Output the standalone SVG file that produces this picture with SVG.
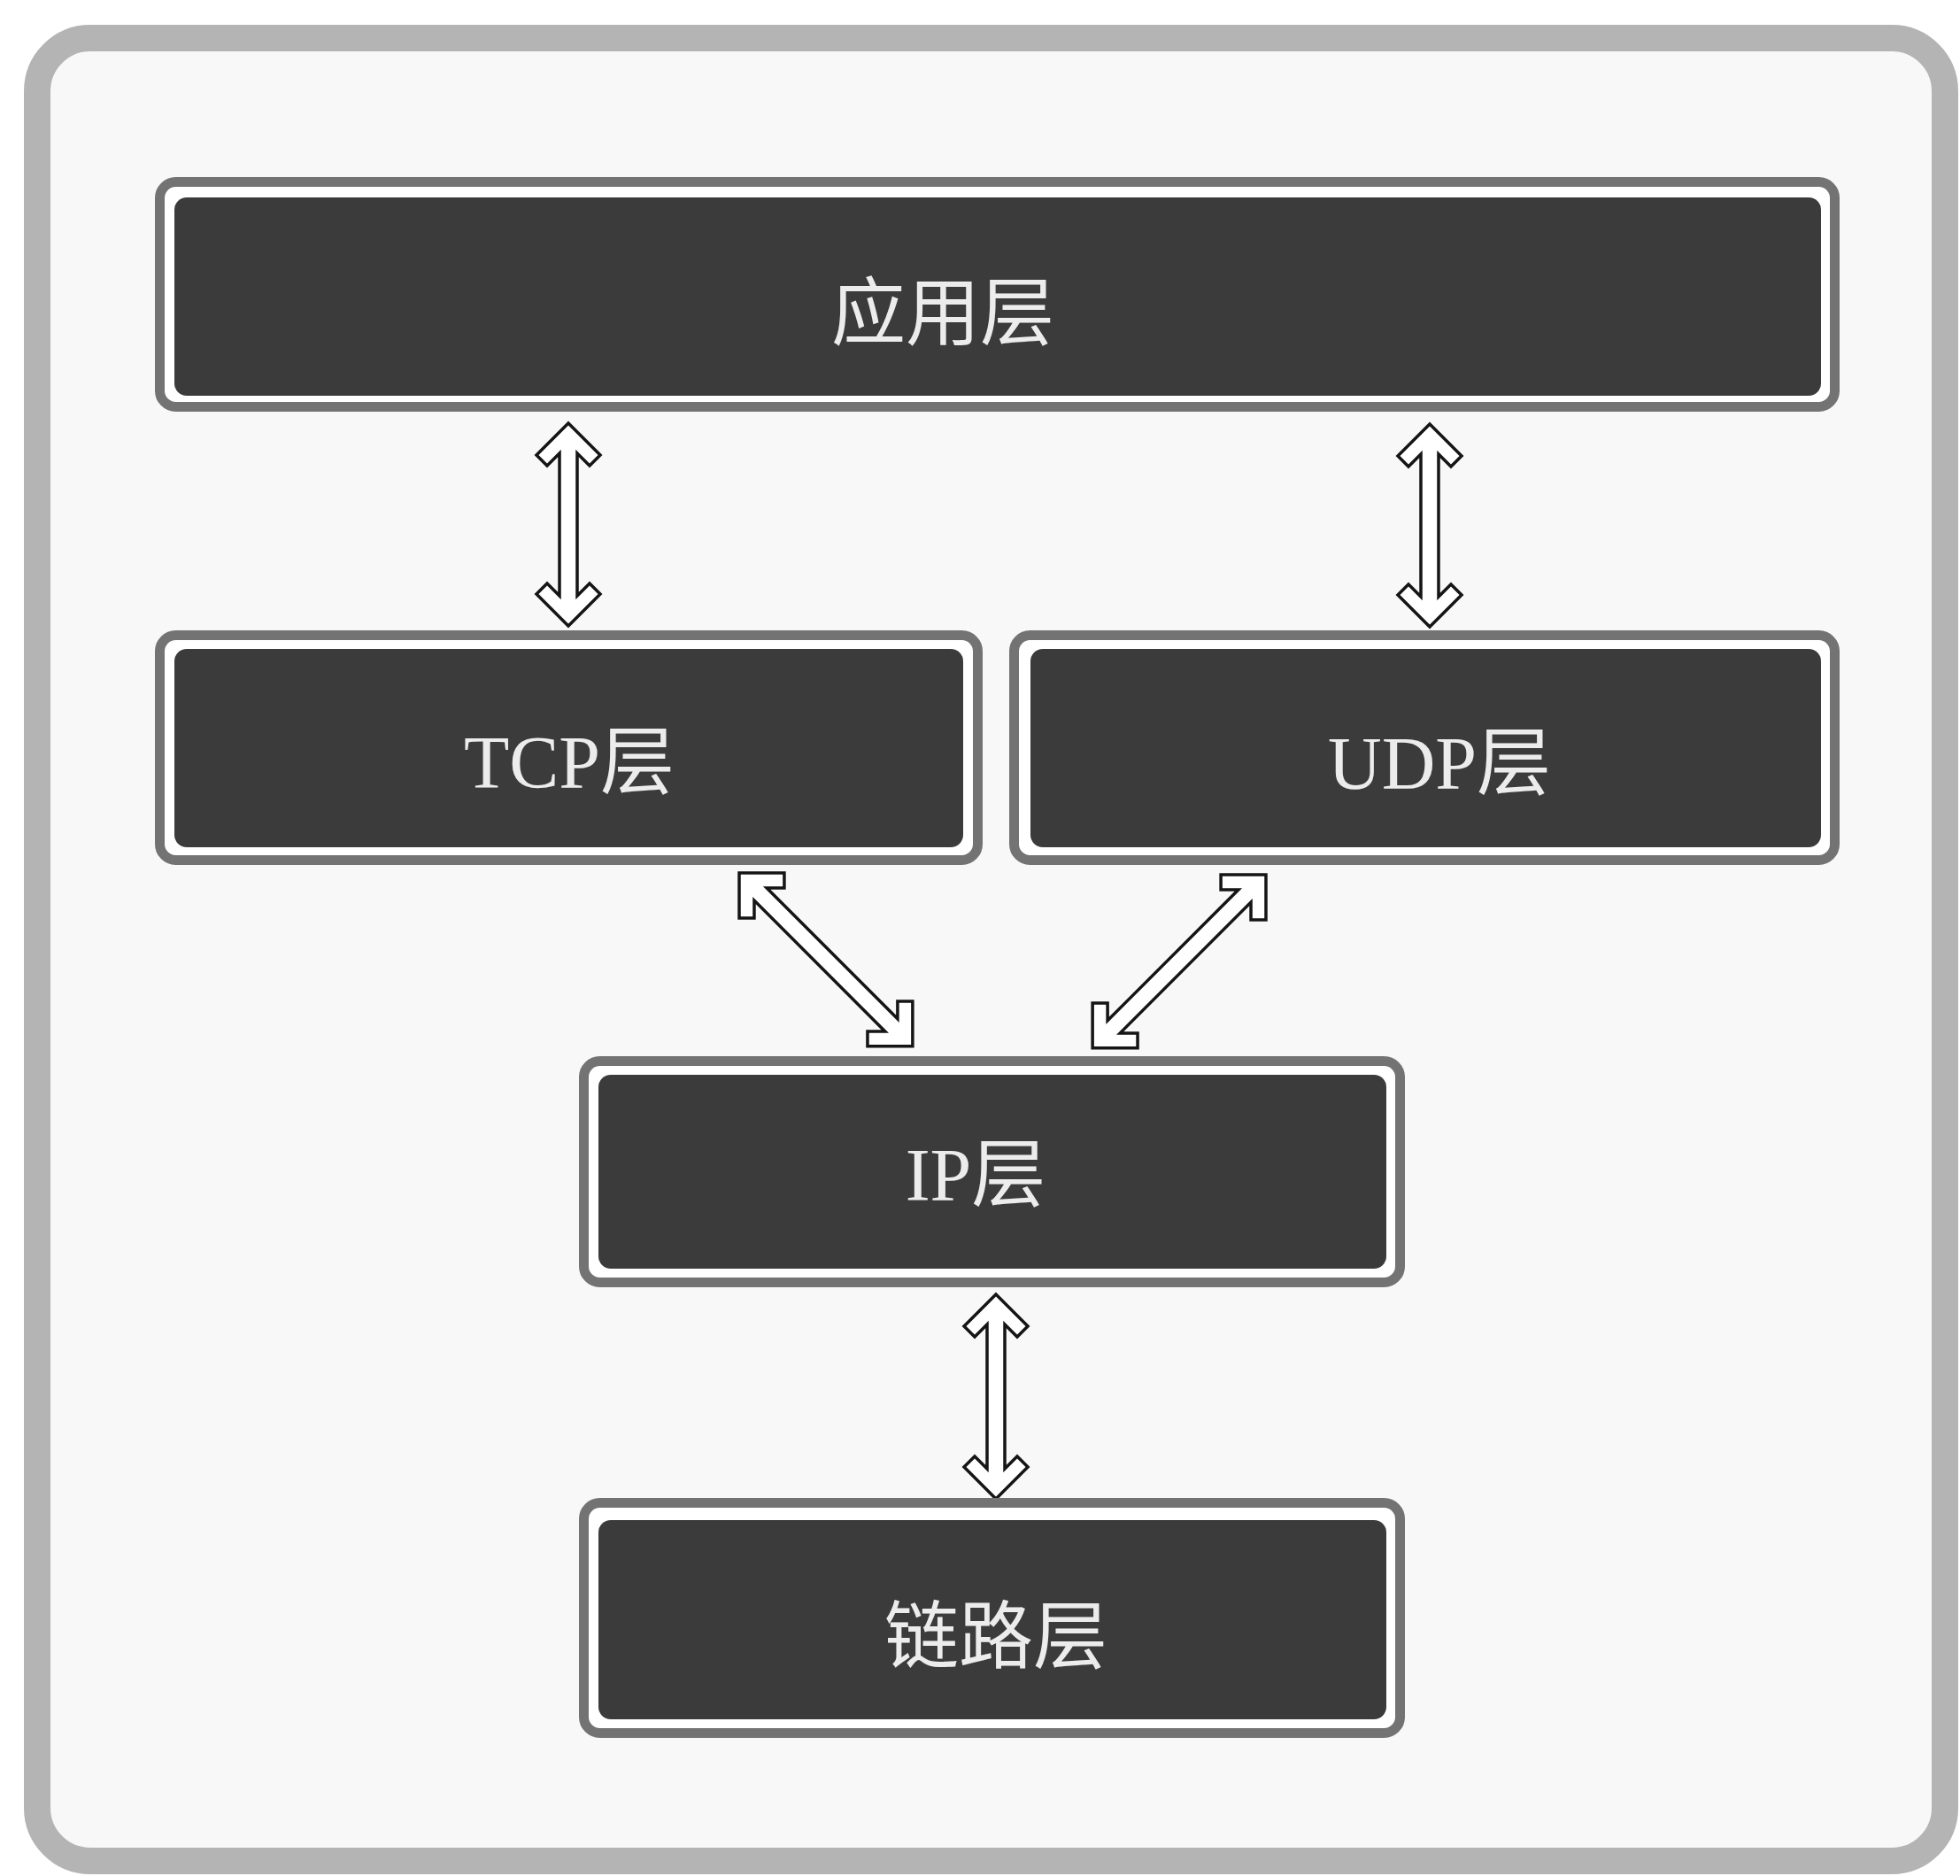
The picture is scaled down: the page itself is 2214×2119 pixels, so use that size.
<svg xmlns="http://www.w3.org/2000/svg" width="2214" height="2119" viewBox="0 0 2214 2119">
  <defs>
    <style>
      .frame { fill: #f8f8f8; stroke: #b4b4b4; stroke-width: 30; }
      .border { fill: #ffffff; stroke: #737373; stroke-width: 11; }
      .core { fill: #3b3b3b; }
      .label { fill: #ececec; font-family: "Liberation Serif", "Noto Sans CJK SC", serif; font-size: 84px; text-anchor: middle; }
      .arrow { fill: #ffffff; stroke: #151515; stroke-width: 3.5; stroke-linejoin: miter; }
    </style>
  </defs>
  <rect x="0" y="0" width="2214" height="2119" fill="#ffffff"/>
  <rect class="frame" x="42" y="43" width="2155" height="2059" rx="60" ry="60"/>

  <g id="connectors">
    <polygon class="arrow" transform="translate(642,478) rotate(90)" points="0,0 36,36 48,24 34,10 195,10 181,24 193,36 229,0 193,-36 181,-24 195,-10 34,-10 48,-24 36,-36"/>
    <polygon class="arrow" transform="translate(1615,479) rotate(90)" points="0,0 36,36 48,24 34,10 195,10 181,24 193,36 229,0 193,-36 181,-24 195,-10 34,-10 48,-24 36,-36"/>
    <polygon class="arrow" transform="translate(835,986) rotate(45)" points="0,0 36,36 48,24 34,10 243,10 229,24 241,36 277,0 241,-36 229,-24 243,-10 34,-10 48,-24 36,-36"/>
    <polygon class="arrow" transform="translate(1430,988) rotate(135)" points="0,0 36,36 48,24 34,10 243,10 229,24 241,36 277,0 241,-36 229,-24 243,-10 34,-10 48,-24 36,-36"/>
    <polygon class="arrow" transform="translate(1125,1462) rotate(90)" points="0,0 36,36 48,24 34,10 197,10 183,24 195,36 231,0 195,-36 183,-24 197,-10 34,-10 48,-24 36,-36"/>
  </g>

  <g id="app">
    <rect class="border" x="180.5" y="205.5" width="1892" height="254" rx="18"/>
    <rect class="core" x="197" y="223" width="1860" height="224" rx="14"/>
    <text class="label" x="1065" y="383">应用层</text>
  </g>

  <g id="tcp">
    <rect class="border" x="180.5" y="717.5" width="924" height="254" rx="18"/>
    <rect class="core" x="197" y="733" width="891" height="224" rx="14"/>
    <text class="label" x="643" y="890">TCP层</text>
  </g>

  <g id="udp">
    <rect class="border" x="1145.5" y="717.5" width="927" height="254" rx="18"/>
    <rect class="core" x="1164" y="733" width="893" height="224" rx="14"/>
    <text class="label" x="1626" y="891">UDP层</text>
  </g>

  <g id="ip">
    <rect class="border" x="659.5" y="1198.5" width="922" height="250" rx="18"/>
    <rect class="core" x="676" y="1214" width="890" height="219" rx="14"/>
    <text class="label" x="1102" y="1356">IP层</text>
  </g>

  <g id="link">
    <rect class="border" x="659.5" y="1697.5" width="922" height="260" rx="18"/>
    <rect class="core" x="676" y="1717" width="890" height="225" rx="14"/>
    <text class="label" x="1125" y="1878">链路层</text>
  </g>
</svg>
